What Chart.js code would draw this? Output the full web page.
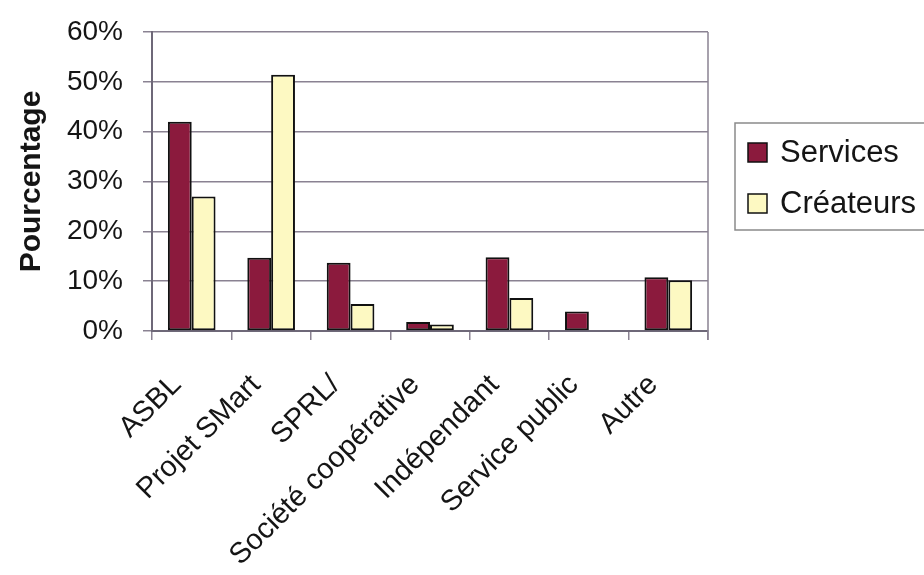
<!DOCTYPE html>
<html>
<head>
<meta charset="utf-8">
<script src="https://cdn.jsdelivr.net/npm/chart.js@4.4.1/dist/chart.umd.min.js"></script>
<style>
  html, body { margin: 0; padding: 0; background: #fff; }
  #wrap { width: 924px; height: 575px; }
</style>
</head>
<body>
<div id="wrap"><canvas id="chart" width="924" height="575"></canvas></div>
<script>
  // Données
  const categories = ['ASBL', 'Projet SMart', 'SPRL/', 'Société coopérative', 'Indépendant', 'Service public', 'Autre'];
  const services = [42, 14.7, 13.7, 1.8, 14.8, 3.9, 10.8];
  const createurs = [27, 51.4, 5.4, 1.3, 6.6, 0, 10.2];
  const seriesNames = ['Services', 'Créateurs'];
  const yTicks = [0, 10, 20, 30, 40, 50, 60];

  const gridColor = '#8a8292';
  const font = "'Liberation Sans', Arial, sans-serif";
  Chart.defaults.font.family = font;
  Chart.defaults.color = '#151515';

  // Légende encadrée, à droite de la zone de tracé
  const boxLegend = {
    id: 'boxLegend',
    afterDraw(chart) {
      const { ctx, chartArea } = chart;
      const left = chartArea.right + 27;
      const top = chartArea.top + 91;
      ctx.save();
      ctx.strokeStyle = '#8a8a8a';
      ctx.lineWidth = 1.5;
      ctx.strokeRect(left, top, 220, 107);
      chart.data.datasets.forEach((ds, i) => {
        const cy = top + 29 + i * 51;
        ctx.fillStyle = ds.backgroundColor;
        ctx.fillRect(left + 13, cy - 9, 19, 19);
        ctx.strokeStyle = '#111';
        ctx.lineWidth = 1.5;
        ctx.strokeRect(left + 13, cy - 9, 19, 19);
        ctx.fillStyle = '#151515';
        ctx.font = `31px ${font}`;
        ctx.textBaseline = 'middle';
        ctx.fillText(ds.label, left + 45, cy + 1);
      });
      ctx.restore();
    }
  };

  // Cadre : ligne de droite de la zone de tracé
  const plotFrame = {
    id: 'plotFrame',
    afterDatasetsDraw(chart) {
      const { ctx, chartArea } = chart;
      ctx.save();
      ctx.strokeStyle = gridColor;
      ctx.lineWidth = 1.5;
      ctx.beginPath();
      ctx.moveTo(chartArea.right, chartArea.top);
      ctx.lineTo(chartArea.right, chartArea.bottom + 9);
      ctx.stroke();
      ctx.restore();
    }
  };

  new Chart(document.getElementById('chart'), {
    type: 'bar',
    data: {
      labels: categories,
      datasets: [
        { label: seriesNames[0], data: services, backgroundColor: '#8b1a3d', borderColor: '#111', borderWidth: 2, borderSkipped: false },
        { label: seriesNames[1], data: createurs, backgroundColor: '#fdf9c2', borderColor: '#111', borderWidth: 2, borderSkipped: false }
      ]
    },
    options: {
      responsive: false,
      animation: false,
      layout: { padding: { top: 0, right: 216, left: 0, bottom: 0 } },
      datasets: { bar: { categoryPercentage: 0.6, barPercentage: 1 } },
      plugins: { legend: { display: false }, tooltip: { enabled: false } },
      scales: {
        x: {
          grid: { offset: true, drawOnChartArea: false, drawTicks: true, tickLength: 9, color: gridColor, lineWidth: 1.5 },
          border: { color: '#6e6878', width: 2 },
          ticks: { autoSkip: false, maxRotation: 45, minRotation: 45, padding: 28, labelOffset: -15, font: { size: 29 } },
          afterFit(scale) { scale.height = 244; }
        },
        y: {
          min: 0,
          max: 60,
          afterBuildTicks(scale) { scale.ticks = yTicks.map(v => ({ value: v })); },
          grid: { color: gridColor, lineWidth: 1.5, tickLength: 9 },
          border: { color: '#6e6878', width: 2 },
          ticks: { padding: 20, font: { size: 28, lineHeight: 1 }, callback: v => v + '%' },
          title: { display: true, text: 'Pourcentage', font: { size: 30, weight: 'bold' }, padding: { top: 14, bottom: 0 } },
          afterFit(scale) { scale.width = 152; scale.paddingTop = 32; }
        }
      }
    },
    plugins: [plotFrame, boxLegend]
  });
</script>
</body>
</html>
